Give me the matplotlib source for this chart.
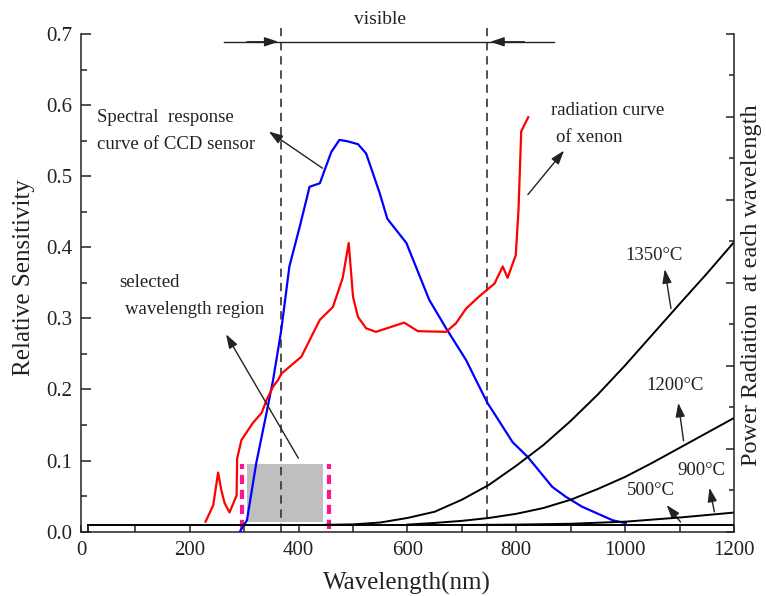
import numpy as np
import matplotlib.pyplot as plt
from matplotlib.ticker import MultipleLocator

plt.rcParams['font.family'] = ['Liberation Serif', 'DejaVu Serif']

# CCD spectral response (left axis)
ccd_wl = [292, 305, 322, 341, 353, 368, 383, 402, 414, 420, 439, 448, 460, 475, 490,
          509, 524, 549, 563, 598, 640, 671, 708, 726, 747, 763, 793, 821, 866, 891,
          921, 977, 1001]
ccd_val = [0.0, 0.016, 0.096, 0.167, 0.213, 0.283, 0.373, 0.429, 0.466, 0.485, 0.49,
           0.509, 0.534, 0.551, 0.549, 0.545, 0.532, 0.476, 0.44, 0.406, 0.326, 0.286,
           0.241, 0.213, 0.181, 0.162, 0.126, 0.105, 0.063, 0.049, 0.035, 0.016, 0.012]

# xenon radiation curve (left axis)
xe_wl = [229, 243, 252, 258, 264, 273, 286, 287, 295, 316, 332, 341, 353, 362, 368,
         405, 439, 463, 481, 492, 500, 509, 524, 542, 570, 594, 619, 671, 689, 708,
         732, 760, 775, 784, 799, 804, 809, 822]
xe_val = [0.014, 0.037, 0.083, 0.058, 0.04, 0.027, 0.051, 0.103, 0.129, 0.153, 0.167,
          0.185, 0.204, 0.213, 0.222, 0.246, 0.298, 0.316, 0.357, 0.406, 0.33, 0.302,
          0.286, 0.281, 0.288, 0.294, 0.282, 0.281, 0.293, 0.314, 0.331, 0.349, 0.373,
          0.357, 0.389, 0.452, 0.563, 0.583]

# black body power radiation (right axis)
bb_wl_1350 = [450, 500, 550, 600, 650, 700, 750, 800, 850, 900, 950, 1000, 1050, 1100, 1150, 1200]
bb_1350 = [0.0165, 0.0175, 0.022, 0.033, 0.048, 0.077, 0.113, 0.159, 0.209, 0.267, 0.331,
           0.401, 0.475, 0.549, 0.622, 0.698]
bb_wl_1200 = [600, 650, 700, 750, 800, 850, 900, 950, 1000, 1050, 1100, 1150, 1200]
bb_1200 = [0.017, 0.021, 0.026, 0.033, 0.043, 0.057, 0.077, 0.103, 0.132, 0.166, 0.202,
           0.238, 0.274]
bb_wl_900 = [700, 800, 900, 1000, 1100, 1200]
bb_900 = [0.016, 0.017, 0.019, 0.024, 0.034, 0.046]
bb_wl_500 = [13, 600, 900, 1200]
bb_500 = [0.0157, 0.0157, 0.0157, 0.0157]

visible_range = [368, 747]
selected_region = [305, 444]
selected_height = [0.014, 0.095]
selected_marks = [296, 455]

fig = plt.figure(figsize=(7.66, 5.96), dpi=100)
ax = fig.add_axes([0.1057, 0.108, 0.8525, 0.835])
ax2 = ax.twinx()

dark = '#222222'

# gray selected region and magenta limits
ax.fill_between(selected_region, selected_height[0], selected_height[1],
                color='#bfbfbf', lw=0, zorder=1)
for x in selected_marks:
    ax.plot([x, x], [0.004, selected_height[1]], color='#ff1493', lw=3,
            ls=(0, (2.2, 1.4)), zorder=2)

# visible range dashed lines
for x in visible_range:
    ax.plot([x, x], [0, 0.708], color='#333333', lw=1.2, ls=(0, (5, 3.5)),
            clip_on=False, zorder=2)

ax.plot(ccd_wl, ccd_val, color='#0000ff', lw=1.6, zorder=3)
ax.plot(xe_wl, xe_val, color='#ff0000', lw=1.6, zorder=3)

for wl, p in [(bb_wl_1350, bb_1350), (bb_wl_1200, bb_1200),
              (bb_wl_900, bb_900), (bb_wl_500, bb_500)]:
    ax2.plot(wl, p, color='black', lw=1.4)
ax2.vlines(bb_wl_500[0], 0, bb_500[0], color='black', lw=1.2)

ax.set_xlim(0, 1200)
ax.set_ylim(0, 0.7)
ax2.set_ylim(0, 1.2)

ax.xaxis.set_major_locator(MultipleLocator(200))
ax.xaxis.set_minor_locator(MultipleLocator(100))
ax.yaxis.set_major_locator(MultipleLocator(0.1))
ax.yaxis.set_minor_locator(MultipleLocator(0.05))
ax.yaxis.set_major_formatter(plt.FuncFormatter(lambda v, p: f'{v:.1f}'))
ax2.yaxis.set_major_locator(MultipleLocator(0.2))
ax2.yaxis.set_minor_locator(MultipleLocator(0.1))

for a in (ax, ax2):
    a.spines['top'].set_visible(False)
    for s in a.spines.values():
        s.set_linewidth(1.1)
        s.set_color(dark)
ax.spines['right'].set_visible(False)
ax2.spines['left'].set_visible(False)
ax2.spines['bottom'].set_visible(False)

ax.tick_params(axis='y', which='major', direction='in', length=7, width=1.1,
               labelsize=15, pad=6, colors=dark, right=False)
ax.tick_params(axis='y', which='minor', direction='in', length=4, width=1.1,
               colors=dark, right=False)
ax.tick_params(axis='x', which='both', direction='in', length=5, width=1.1,
               labelsize=15, pad=7, colors=dark, top=False)
ax2.tick_params(axis='y', which='major', direction='in', length=6, width=1.1,
                labelright=False, colors=dark)
ax2.tick_params(axis='y', which='minor', direction='in', length=3.5, width=1.1,
                colors=dark)

# visible arrow
ax.plot([262, 870], [0.689, 0.689], color=dark, lw=1, clip_on=False)
arrow = dict(arrowstyle='-|>,head_length=0.6,head_width=0.2', color=dark, lw=1,
             mutation_scale=14)
ax.annotate('', xy=(visible_range[0], 0.689), xytext=(300, 0.689),
            arrowprops=arrow, annotation_clip=False)
ax.annotate('', xy=(visible_range[1], 0.689), xytext=(820, 0.689),
            arrowprops=arrow, annotation_clip=False)
ax.text(550, 0.72, 'visible', fontsize=14, ha='center', va='center', color=dark,
        clip_on=False)

# annotations
txt = dict(fontsize=13.5, color=dark, va='center')
ax.text(29, 0.582, 'Spectral  response', ha='left', **txt)
ax.text(29, 0.544, 'curve of CCD sensor', ha='left', **txt)
ax.annotate('', xy=(341, 0.565), xytext=(448, 0.509), arrowprops=arrow)

ax.text(864, 0.593, 'radiation curve', ha='left', **txt)
ax.text(873, 0.555, 'of xenon', ha='left', **txt)
ax.annotate('', xy=(891, 0.539), xytext=(818, 0.471), arrowprops=arrow)

ax.text(70, 0.350, 'selected', ha='left', **txt)
ax.text(81, 0.312, 'wavelength region', ha='left', **txt)
ax.annotate('', xy=(264, 0.281), xytext=(402, 0.10), arrowprops=arrow)

ax.text(1053, 0.388, '1350°C', ha='center', **txt)
ax.annotate('', xy=(1072, 0.373), xytext=(1085, 0.31), arrowprops=arrow)
ax.text(1092, 0.206, '1200°C', ha='center', **txt)
ax.annotate('', xy=(1097, 0.185), xytext=(1108, 0.124), arrowprops=arrow)
ax.text(1141, 0.0866, '900°C', ha='center', **txt)
ax.annotate('', xy=(1154, 0.0655), xytext=(1165, 0.024), arrowprops=arrow)
ax.text(1048, 0.058, '500°C', ha='center', **txt)
ax.annotate('', xy=(1073, 0.0405), xytext=(1105, 0.0105), arrowprops=arrow)

fig.text(24 / 766, 1 - 278 / 596, 'Relative Sensitivity', rotation=90, fontsize=18,
         ha='center', va='center', color=dark)
fig.text(752 / 766, 1 - 285 / 596, 'Power Radiation  at each wavelength', rotation=90,
         fontsize=17.5, ha='center', va='center', color=dark)
fig.text(407 / 766, 1 - 590 / 596, 'Wavelength(nm)', fontsize=18, ha='center',
         va='baseline', color=dark)

fig.savefig('out.png', dpi=100)
